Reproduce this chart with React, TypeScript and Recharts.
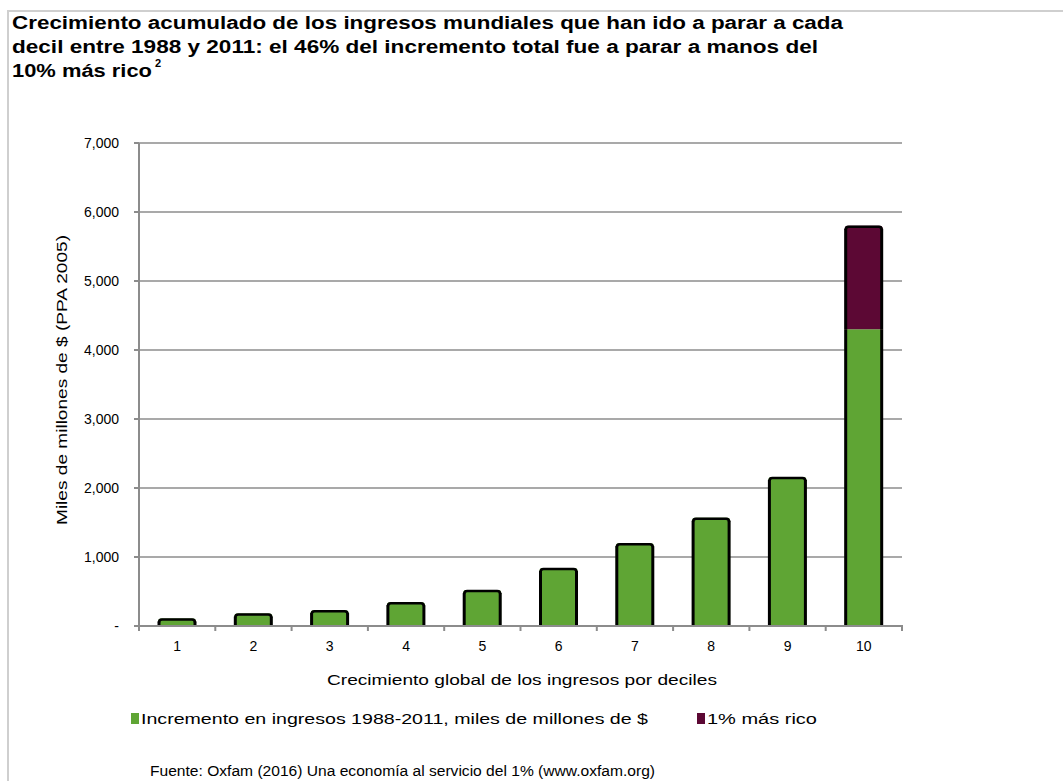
import { BarChart, Bar, XAxis, YAxis, CartesianGrid } from "recharts";

const deciles = ["1", "2", "3", "4", "5", "6", "7", "8", "9", "10"];
const incremento = [110, 180, 230, 345, 520, 840, 1200, 1570, 2160, 4300];
const masRico = [0, 0, 0, 0, 0, 0, 0, 0, 0, 1500];
const yTicks = [0, 1000, 2000, 3000, 4000, 5000, 6000, 7000];

const titleLines = [
  "Crecimiento acumulado de los ingresos mundiales que han ido a parar a cada",
  "decil entre 1988 y 2011: el 46% del incremento total fue a parar a manos del",
  "10% más rico",
];
const yLabel = "Miles de millones de $ (PPA 2005)";
const xLabel = "Crecimiento global de los ingresos por deciles";
const legendGreen = "Incremento en ingresos 1988-2011, miles de millones de $";
const legendPurple = "1% más rico";
const fuente = "Fuente: Oxfam (2016) Una economía al servicio del 1% (www.oxfam.org)";

const GREEN = "#5fa534";
const PURPLE = "#5c0834";
const AXIS = "#8c8c8c";
const FONT = "'Liberation Sans', Arial, sans-serif";

const W = 1063;
const H = 781;
const PLOT_LEFT = 139;
const PLOT_RIGHT = 902;
const BAND = (PLOT_RIGHT - PLOT_LEFT) / deciles.length;

const data = deciles.map((d, i) => ({
  decil: d,
  incremento: incremento[i],
  masRico: masRico[i],
}));

// bar segment: fill plus black sides, black cap only when nothing sits on top
function Segment(props: any) {
  const { x, y, width, height, fill, payload, top } = props;
  if (!height || height <= 0) return null;
  const capped = top || !payload.masRico;
  const r = capped ? 3 : 0;
  const path = `M${x},${y + height} L${x},${y + r} Q${x},${y} ${x + r},${y} L${x + width - r},${y} Q${x + width},${y} ${x + width},${y + r} L${x + width},${y + height} Z`;
  return (
    <g>
      <path d={path} fill={fill} />
      <line x1={x + 1} y1={y + r} x2={x + 1} y2={y + height} stroke="#000" strokeWidth={3} />
      <line x1={x + width - 1} y1={y + r} x2={x + width - 1} y2={y + height} stroke="#000" strokeWidth={3} />
      {capped && (
        <path
          d={`M${x + 1},${y + r + 1} Q${x + 1},${y + 1} ${x + r + 1},${y + 1} L${x + width - r - 1},${y + 1} Q${x + width - 1},${y + 1} ${x + width - 1},${y + r + 1}`}
          fill="none"
          stroke="#000"
          strokeWidth={2.5}
        />
      )}
    </g>
  );
}

function XTick(props: any) {
  const { x, y, payload, index } = props;
  const axisY = y - 8;
  const last = index === deciles.length - 1;
  return (
    <g>
      <line x1={x - BAND / 2} y1={axisY - 1} x2={x - BAND / 2} y2={axisY + 5} stroke={AXIS} strokeWidth={2} />
      {last && <line x1={x + BAND / 2} y1={axisY - 1} x2={x + BAND / 2} y2={axisY + 5} stroke={AXIS} strokeWidth={2} />}
      <text x={x} y={axisY + 25} textAnchor="middle" fontSize={14} fontFamily={FONT} fill="#000">
        {payload.value}
      </text>
    </g>
  );
}

const fmt = (v: number) => (v === 0 ? "-" : v.toLocaleString("en-US"));

export default function App() {
  return (
    <div style={{ position: "absolute", left: 0, top: 0, width: W, height: H, overflow: "hidden", background: "#fff" }}>
      <div style={{ position: "absolute", left: 7, top: 10, width: W, height: H, borderLeft: "2px solid #cfcfcf", borderTop: "2px solid #cfcfcf" }} />
      <div style={{ position: "absolute", left: 0, top: 0 }}>
        <BarChart
          width={W}
          height={H}
          data={data}
          margin={{ top: 143, left: PLOT_LEFT - 60, right: W - PLOT_RIGHT, bottom: H - 626 - 30 }}
          barSize={38}
        >
          <CartesianGrid horizontal vertical={false} stroke={AXIS} strokeWidth={1.5} />
          <XAxis
            dataKey="decil"
            height={30}
            axisLine={{ stroke: AXIS, strokeWidth: 2 }}
            tickLine={false}
            tick={<XTick />}
            interval={0}
          />
          <YAxis
            width={60}
            domain={[0, 7000]}
            ticks={yTicks}
            tickFormatter={fmt}
            axisLine={{ stroke: AXIS, strokeWidth: 2 }}
            tickLine={{ stroke: AXIS, strokeWidth: 2 }}
            tickSize={5}
            tickMargin={15}
            tick={{ fill: "#000", fontSize: 14, fontFamily: FONT }}
          />
          <Bar dataKey="incremento" stackId="a" fill={GREEN} isAnimationActive={false} shape={<Segment />} />
          <Bar dataKey="masRico" stackId="a" fill={PURPLE} isAnimationActive={false} shape={<Segment top />} />
        </BarChart>
      </div>
      <svg width={W} height={H} style={{ position: "absolute", left: 0, top: 0, pointerEvents: "none" }}>
        <g fontFamily={FONT} fontWeight="bold" fontSize={18} fill="#000">
          <text x={12} y={29} textLength={831} lengthAdjust="spacingAndGlyphs">{titleLines[0]}</text>
          <text x={12} y={53} textLength={806} lengthAdjust="spacingAndGlyphs">{titleLines[1]}</text>
          <text x={12} y={77} textLength={140} lengthAdjust="spacingAndGlyphs">{titleLines[2]}</text>
          <text x={155} y={67} fontSize={11}>2</text>
        </g>
        <g fontFamily={FONT} fontSize={14} fill="#000">
          <text
            x={0}
            y={0}
            transform="translate(67,380) rotate(-90)"
            textAnchor="middle"
            textLength={290}
            lengthAdjust="spacingAndGlyphs"
          >
            {yLabel}
          </text>
          <text x={327} y={685} textLength={390} lengthAdjust="spacingAndGlyphs">{xLabel}</text>
          <rect x={131} y={713} width={8} height={11} fill={GREEN} />
          <text x={141} y={724} textLength={507} lengthAdjust="spacingAndGlyphs">{legendGreen}</text>
          <rect x={697} y={713} width={8} height={11} fill={PURPLE} />
          <text x={707} y={724} textLength={110} lengthAdjust="spacingAndGlyphs">{legendPurple}</text>
          <text x={150} y={776} textLength={505} lengthAdjust="spacingAndGlyphs">{fuente}</text>
        </g>
      </svg>
    </div>
  );
}
